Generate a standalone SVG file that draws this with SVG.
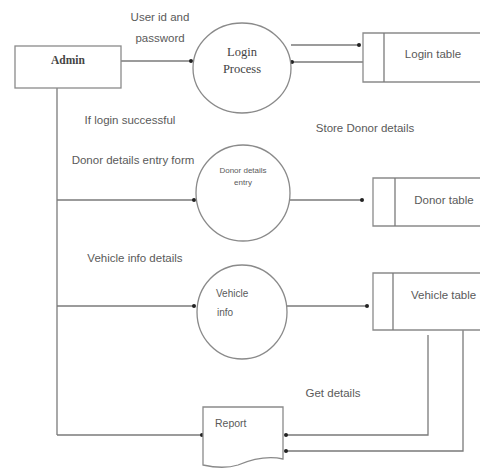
<svg xmlns="http://www.w3.org/2000/svg" width="480" height="468" viewBox="0 0 480 468">
<style>
.s{fill:none;stroke:#7a7a7a;stroke-width:1.3}
.n{fill:#fff;stroke:#8a8a8a;stroke-width:1.3}
.t{font-family:"Liberation Sans",Arial,sans-serif;font-size:11.5px;fill:#5a5a5a}
.sm{font-family:"Liberation Sans",Arial,sans-serif;font-size:8px;fill:#5a5a5a}
.sf{font-family:"Liberation Serif","Times New Roman",serif;font-size:12.5px;fill:#444}
.c{text-anchor:middle}
</style>
<defs>
<marker id="dot" viewBox="0 0 6 6" refX="3" refY="3" markerWidth="4" markerHeight="4" markerUnits="userSpaceOnUse"><circle cx="3" cy="3" r="3" fill="#222"/></marker>
</defs>
<rect width="480" height="468" fill="#fff"/>
<g id="connectors">
<path class="s" d="M121 61H191" marker-end="url(#dot)"/>
<path class="s" d="M291 45H359" marker-end="url(#dot)"/>
<path class="s" d="M363 62H292" marker-end="url(#dot)"/>
<path class="s" d="M57 88V435"/>
<path class="s" d="M57 200H194" marker-end="url(#dot)"/>
<path class="s" d="M290 200H362" marker-end="url(#dot)"/>
<path class="s" d="M57 306H194" marker-end="url(#dot)"/>
<path class="s" d="M287 306H367" marker-end="url(#dot)"/>
<path class="s" d="M57 435H202" marker-end="url(#dot)"/>
<path class="s" d="M428 335V435H286" marker-end="url(#dot)"/>
<path class="s" d="M463 330V451H286" marker-end="url(#dot)"/>
</g>
<g id="labels">
<text class="t c" x="160" y="21">User id and</text>
<text class="t c" x="160" y="42">password</text>
<text class="t c" x="130" y="124">If login successful</text>
<text class="t c" x="365" y="132">Store Donor details</text>
<text class="t c" x="133" y="164">Donor details entry form</text>
<text class="t c" x="135" y="262">Vehicle info details</text>
<text class="t c" x="333" y="397">Get details</text>
</g>
<g id="admin">
<rect class="n" x="15" y="46" width="106" height="42"/>
<text class="sf c" x="68" y="64" style="font-weight:bold;font-size:11.5px">Admin</text>
</g>
<g id="login-process">
<ellipse class="n" cx="242" cy="68" rx="49" ry="45"/>
<text class="sf c" x="242" y="56">Login</text>
<text class="sf c" x="242" y="73">Process</text>
</g>
<g id="login-table">
<path class="n" d="M485 33H363V82H485"/>
<path class="s" d="M384 33V82"/>
<text class="t c" x="433" y="58">Login table</text>
</g>
<g id="donor-entry">
<ellipse class="n" cx="243" cy="193" rx="47" ry="48"/>
<text class="sm c" x="243" y="173">Donor details</text>
<text class="sm c" x="243" y="185">entry</text>
</g>
<g id="donor-table">
<path class="n" d="M485 178H373V226H485"/>
<path class="s" d="M395 178V226"/>
<text class="t c" x="444" y="204">Donor table</text>
</g>
<g id="vehicle-info">
<ellipse class="n" cx="242" cy="312" rx="45" ry="47"/>
<text class="t" x="216" y="297" style="font-size:10px">Vehicle</text>
<text class="t" x="217" y="316" style="font-size:10px">info</text>
</g>
<g id="vehicle-table">
<path class="n" d="M485 273H373V330H485"/>
<path class="s" d="M393 273V330"/>
<text class="t" x="411" y="299">Vehicle table</text>
</g>
<g id="report">
<path class="n" d="M203 407H283V459C265 455 250 460 238 465C225 469 212 467 203 465Z"/>
<text class="t" x="215" y="427" style="font-size:10.5px">Report</text>
</g>
</svg>
